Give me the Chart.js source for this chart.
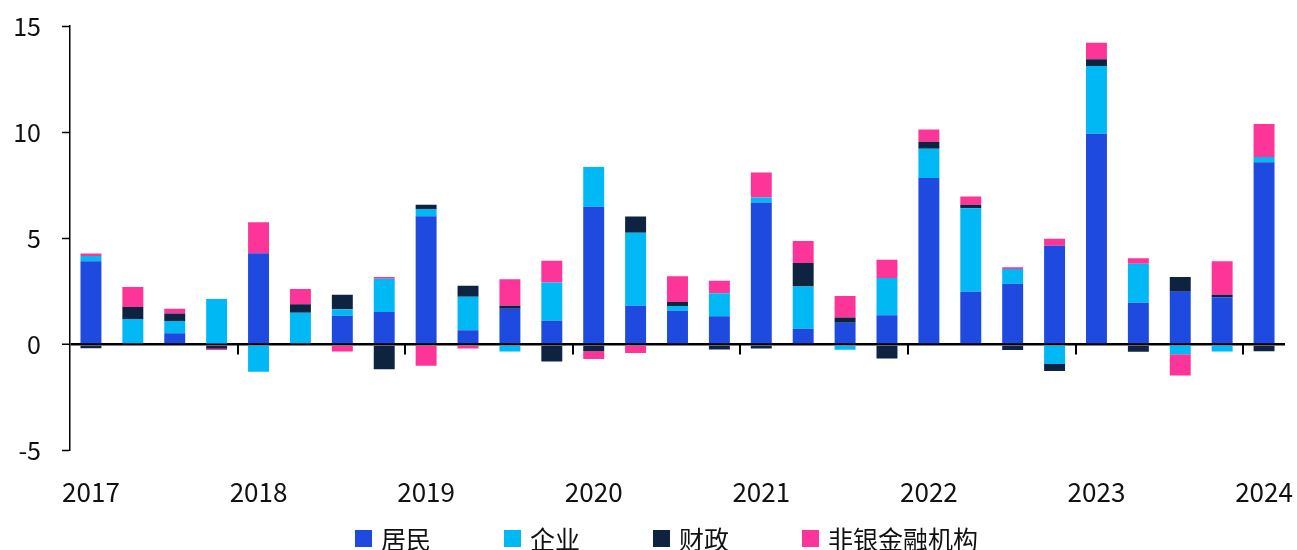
<!DOCTYPE html>
<html>
<head>
<meta charset="utf-8">
<script src="https://cdn.jsdelivr.net/npm/chart.js@4.4.1/dist/chart.umd.min.js"></script>
<style>
  html, body { margin: 0; padding: 0; background: #fff; }
  body { width: 1297px; height: 550px; position: relative; overflow: hidden; font-family: 'Noto Sans CJK SC', 'Noto Sans', sans-serif; }
  #wrap { position: absolute; left: 0; top: 0; width: 1297px; height: 528px; }
  #legend { position: absolute; left: 355px; top: 525px; display: flex; align-items: center; font-size: 25px; line-height: 26px; color: #111; }
  #legend .item { display: flex; align-items: center; margin-right: 73px; }
  #legend .box { width: 17px; height: 17px; margin-right: 9px; }
</style>
</head>
<body>
<div id="wrap"><canvas id="chart"></canvas></div>
<div id="legend"></div>
<script>
// quarterly stacked contributions, 2017Q1 .. 2024Q1
const quarters = [
  '2017Q1', '2017Q2', '2017Q3', '2017Q4',
  '2018Q1', '2018Q2', '2018Q3', '2018Q4',
  '2019Q1', '2019Q2', '2019Q3', '2019Q4',
  '2020Q1', '2020Q2', '2020Q3', '2020Q4',
  '2021Q1', '2021Q2', '2021Q3', '2021Q4',
  '2022Q1', '2022Q2', '2022Q3', '2022Q4',
  '2023Q1', '2023Q2', '2023Q3', '2023Q4',
  '2024Q1',
];
const yearLabels = ['2017', '2018', '2019', '2020', '2021', '2022', '2023', '2024'];
const yTicks = [-5, 0, 5, 10, 15];

const seriesNames = ['居民', '企业', '财政', '非银金融机构'];

const household = [3.93, 0, 0.53, 0.05, 4.30, 0, 1.36, 1.53, 6.04, 0.68, 1.69, 1.12, 6.49, 1.83, 1.59, 1.33,
  6.69, 0.75, 1.03, 1.38, 7.84, 2.49, 2.87, 4.65, 9.93, 1.97, 2.49, 2.23, 8.58];
const corporate = [0.24, 1.20, 0.58, 2.10, -1.28, 1.50, 0.31, 1.57, 0.35, 1.57, -0.32, 1.80, 1.87, 3.44, 0.23, 1.09,
  0.23, 1.99, -0.24, 1.76, 1.38, 3.93, 0.69, -0.91, 3.19, 1.84, -0.45, -0.32, 0.25];
const fiscal = [-0.17, 0.57, 0.36, -0.20, 0, 0.40, 0.68, -1.16, 0.19, 0.52, 0.14, -0.79, -0.31, 0.76, 0.18, -0.23,
  -0.18, 1.10, 0.25, -0.65, 0.33, 0.16, -0.26, -0.33, 0.31, -0.34, 0.69, 0.12, -0.31];
const nonbank = [0.12, 0.94, 0.22, -0.06, 1.46, 0.72, -0.32, 0.08, -1.00, -0.18, 1.25, 1.03, -0.37, -0.39, 1.22, 0.59,
  1.18, 1.04, 1.01, 0.85, 0.58, 0.39, 0.08, 0.33, 0.78, 0.26, -1.00, 1.57, 1.56];

const COLORS = ['#1f4ae0', '#00b8f4', '#0e2340', '#fe3598'];
const FONT = "'Noto Sans CJK SC', 'Noto Sans', sans-serif";

// small tick marks under the zero line at each year boundary
const yearTicks = {
  id: 'yearTicks',
  afterDatasetsDraw(chart) {
    const { ctx, scales: { x, y } } = chart;
    const y0 = y.getPixelForValue(0);
    const half = (x.getPixelForValue(1) - x.getPixelForValue(0)) / 2;
    ctx.save();
    ctx.strokeStyle = '#000';
    ctx.lineWidth = 2;
    for (let i = 4; i < quarters.length; i += 4) {
      const px = Math.round(x.getPixelForValue(i) - half);
      ctx.beginPath();
      ctx.moveTo(px, y0);
      ctx.lineTo(px, y0 + 10);
      ctx.stroke();
    }
    ctx.restore();
  },
};

const values = [household, corporate, fiscal, nonbank];

new Chart(document.getElementById('chart'), {
  type: 'bar',
  data: {
    labels: quarters,
    datasets: seriesNames.map((name, i) => ({
      label: name,
      data: values[i],
      backgroundColor: COLORS[i],
      borderWidth: 0,
      barPercentage: 0.5,
      categoryPercentage: 1,
    })),
  },
  options: {
    responsive: true,
    maintainAspectRatio: false,
    animation: false,
    layout: { padding: { top: 26, right: 12, bottom: 2, left: 0 } },
    plugins: {
      legend: { display: false },
      tooltip: { enabled: false },
    },
    scales: {
      x: {
        stacked: true,
        grid: { display: false },
        border: { display: false },
        afterFit: s => { s.paddingRight = 0; },
        ticks: {
          autoSkip: false,
          maxRotation: 0,
          padding: 18,
          color: '#111',
          font: { family: FONT, size: 26 },
          callback: (v, i) => (i % 4 === 0 ? yearLabels[i / 4] : ''),
        },
      },
      y: {
        stacked: true,
        min: yTicks[0],
        max: yTicks[yTicks.length - 1],
        afterBuildTicks: s => { s.ticks = yTicks.map(v => ({ value: v })); },
        afterFit: s => { s.width = 70; s.paddingTop = 0; s.paddingBottom = 0; },
        border: { display: true, color: '#000', width: 1.5 },
        grid: {
          color: c => (c.tick && c.tick.value === 0 ? '#000' : 'rgba(0,0,0,0)'),
          lineWidth: c => (c.tick && c.tick.value === 0 ? 2.5 : 1),
          tickColor: '#000',
          tickWidth: 1.5,
          tickLength: 8,
        },
        ticks: {
          padding: 21,
          color: '#111',
          font: { family: FONT, size: 25 },
        },
      },
    },
  },
  plugins: [yearTicks],
});

// legend drawn as html under the chart
const legendEl = document.getElementById('legend');
seriesNames.forEach((name, i) => {
  const item = document.createElement('div');
  item.className = 'item';
  item.innerHTML = `<span class="box" style="background:${COLORS[i]}"></span><span>${name}</span>`;
  legendEl.appendChild(item);
});
</script>
</body>
</html>
